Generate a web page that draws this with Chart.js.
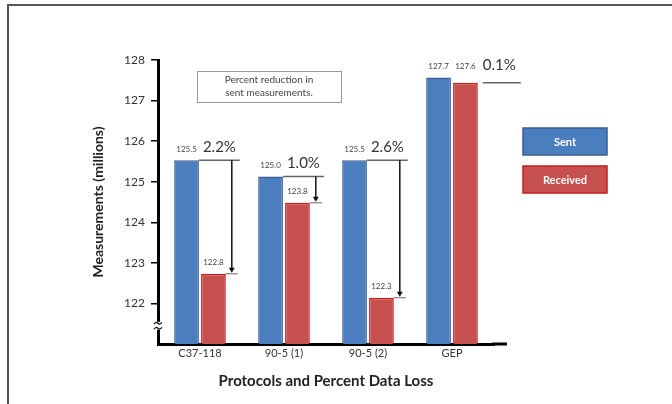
<!DOCTYPE html>
<html>
<head>
<meta charset="utf-8">
<script src="https://cdn.jsdelivr.net/npm/chart.js@4"></script>
<style>
  body { margin: 0; background: #fff; }
  canvas { display: block; }
</style>
</head>
<body>
<canvas id="chart" width="672" height="404"></canvas>
<script>
// data
const categories = ['C37-118', '90-5 (1)', '90-5 (2)', 'GEP'];
const sentValues = [125.53, 125.13, 125.53, 127.57];
const receivedValues = [122.73, 124.48, 122.14, 127.44];
const sentLabels = ['125.5', '125.0', '125.5', '127.7'];
const receivedLabels = ['122.8', '123.8', '122.3', '127.6'];
const lossLabels = ['2.2%', '1.0%', '2.6%', '0.1%'];
const yTicks = [122, 123, 124, 125, 126, 127, 128];

const FONT = 'Lato, "Open Sans", sans-serif';

// white background + thin frame
const framePlugin = {
  id: 'frame',
  beforeDraw(chart) {
    const ctx = chart.ctx;
    ctx.save();
    ctx.fillStyle = '#fff';
    ctx.fillRect(0, 0, chart.width, chart.height);
    ctx.strokeStyle = '#555';
    ctx.lineWidth = 2;
    ctx.beginPath();
    ctx.moveTo(8, chart.height);
    ctx.lineTo(8, 5);
    ctx.lineTo(chart.width, 5);
    ctx.stroke();
    ctx.restore();
  }
};

// brackets, arrows, value labels, legend boxes, note box, axis break
const annotatePlugin = {
  id: 'annotate',
  afterDraw(chart) {
    const ctx = chart.ctx;
    const area = chart.chartArea;
    const sent = chart.getDatasetMeta(0).data;
    const recv = chart.getDatasetMeta(1).data;
    ctx.save();

    // extend the x axis line past the last category
    ctx.strokeStyle = '#000';
    ctx.lineWidth = 3;
    ctx.beginPath();
    ctx.moveTo(area.right - 2, area.bottom);
    ctx.lineTo(507, area.bottom);
    ctx.stroke();

    // axis break on the y axis
    const bx = area.left;
    const by = chart.scales.y.getPixelForValue(121.45);
    ctx.fillStyle = '#fff';
    ctx.fillRect(bx - 3, by - 4, 6, 8);
    ctx.strokeStyle = '#000';
    ctx.lineWidth = 1.2;
    [-2.5, 2.5].forEach(dy => {
      ctx.beginPath();
      ctx.moveTo(bx - 4, by + dy + 1);
      ctx.quadraticCurveTo(bx - 2, by + dy - 2, bx, by + dy);
      ctx.quadraticCurveTo(bx + 2, by + dy + 2, bx + 4, by + dy - 1);
      ctx.stroke();
    });

    for (let i = 0; i < categories.length; i++) {
      const s = sent[i], r = recv[i];
      const sRight = s.x + s.width / 2;
      const rRight = r.x + r.width / 2;
      const small = sentValues[i] - receivedValues[i] < 0.5;

      // value labels above the bars
      ctx.fillStyle = '#444';
      ctx.font = '8px ' + FONT;
      ctx.textAlign = 'center';
      ctx.textBaseline = 'middle';
      ctx.fillText(sentLabels[i], s.x, s.y - 11);
      ctx.fillText(receivedLabels[i], r.x, small ? s.y - 11 : r.y - 11);

      ctx.font = '15px ' + FONT;
      ctx.fillStyle = '#333';
      ctx.textAlign = 'left';
      ctx.strokeStyle = '#666';
      ctx.lineWidth = 1.5;

      if (small) {
        ctx.fillText(lossLabels[i], rRight + 5, s.y - 12);
        ctx.beginPath();
        ctx.moveTo(rRight + 5, r.y);
        ctx.lineTo(rRight + 43, r.y);
        ctx.stroke();
        continue;
      }

      ctx.fillText(lossLabels[i], sRight + 4, s.y - 13);
      // top line
      ctx.beginPath();
      ctx.moveTo(sRight, s.y);
      ctx.lineTo(rRight + 14, s.y);
      ctx.stroke();
      // end tick at received level
      ctx.lineWidth = 1;
      ctx.beginPath();
      ctx.moveTo(rRight, r.y);
      ctx.lineTo(rRight + 12, r.y);
      ctx.stroke();
      // arrow
      const ax = rRight + 6;
      ctx.strokeStyle = '#111';
      ctx.lineWidth = 1.5;
      ctx.beginPath();
      ctx.moveTo(ax, s.y);
      ctx.lineTo(ax, r.y - 5);
      ctx.stroke();
      ctx.fillStyle = '#111';
      ctx.beginPath();
      ctx.moveTo(ax - 3, r.y - 6);
      ctx.lineTo(ax + 3, r.y - 6);
      ctx.lineTo(ax, r.y - 1);
      ctx.closePath();
      ctx.fill();
    }

    // note box
    ctx.strokeStyle = '#999';
    ctx.lineWidth = 1;
    ctx.strokeRect(197.5, 71.5, 144, 31);
    ctx.fillStyle = '#444';
    ctx.font = '10px ' + FONT;
    ctx.textAlign = 'center';
    ctx.fillText('Percent reduction in', 269, 80);
    ctx.fillText('sent measurements.', 269, 93);

    // legend boxes
    chart.data.datasets.forEach((ds, k) => {
      const y = 128 + k * 38;
      ctx.fillStyle = ds.backgroundColor;
      ctx.fillRect(523, y, 84, 27);
      ctx.strokeStyle = ds.borderColor;
      ctx.lineWidth = 1.5;
      ctx.strokeRect(523, y, 84, 27);
      ctx.fillStyle = '#fff';
      ctx.font = 'bold 11px ' + FONT;
      ctx.textAlign = 'center';
      ctx.textBaseline = 'middle';
      ctx.fillText(ds.label, 565, y + 14);
    });

    ctx.restore();
  }
};

new Chart(document.getElementById('chart'), {
  type: 'bar',
  data: {
    labels: categories,
    datasets: [
      {
        label: 'Sent',
        data: sentValues,
        backgroundColor: '#4a7ebf',
        borderColor: '#3a5f94',
        borderWidth: 1.5,
        categoryPercentage: 0.64,
        barPercentage: 0.92
      },
      {
        label: 'Received',
        data: receivedValues,
        backgroundColor: '#c6504d',
        borderColor: '#c81e1e',
        borderWidth: 1.5,
        categoryPercentage: 0.64,
        barPercentage: 0.92
      }
    ]
  },
  options: {
    responsive: false,
    devicePixelRatio: 1,
    animation: false,
    layout: { padding: { left: 90, right: 178, top: 60, bottom: 10 } },
    plugins: {
      legend: { display: false },
      tooltip: { enabled: false }
    },
    scales: {
      x: {
        afterFit: (scale) => { scale.height = 50; },
        grid: { display: false, drawTicks: false },
        border: { display: true, color: '#000', width: 3 },
        ticks: { padding: 3, color: '#333', font: { family: FONT, size: 11 } },
        title: {
          display: true,
          text: 'Protocols and Percent Data Loss',
          color: '#222',
          font: { family: FONT, size: 15, weight: 'bold' },
          padding: { top: 0, bottom: 4 }
        }
      },
      y: {
        min: 121,
        max: 128,
        afterFit: (scale) => { scale.width = 68; },
        afterBuildTicks: (scale) => { scale.ticks = yTicks.map(v => ({ value: v })); },
        grid: { drawOnChartArea: false, drawTicks: true, tickLength: 7, color: '#000', lineWidth: 1.5 },
        border: { display: true, color: '#000', width: 3 },
        ticks: { padding: 6, color: '#333', font: { family: FONT, size: 12 } },
        title: {
          display: true,
          text: 'Measurements (millions)',
          color: '#222',
          font: { family: FONT, size: 14, weight: 'bold' },
          padding: { top: 0, bottom: 0 }
        }
      }
    }
  },
  plugins: [framePlugin, annotatePlugin]
});
</script>
</body>
</html>
